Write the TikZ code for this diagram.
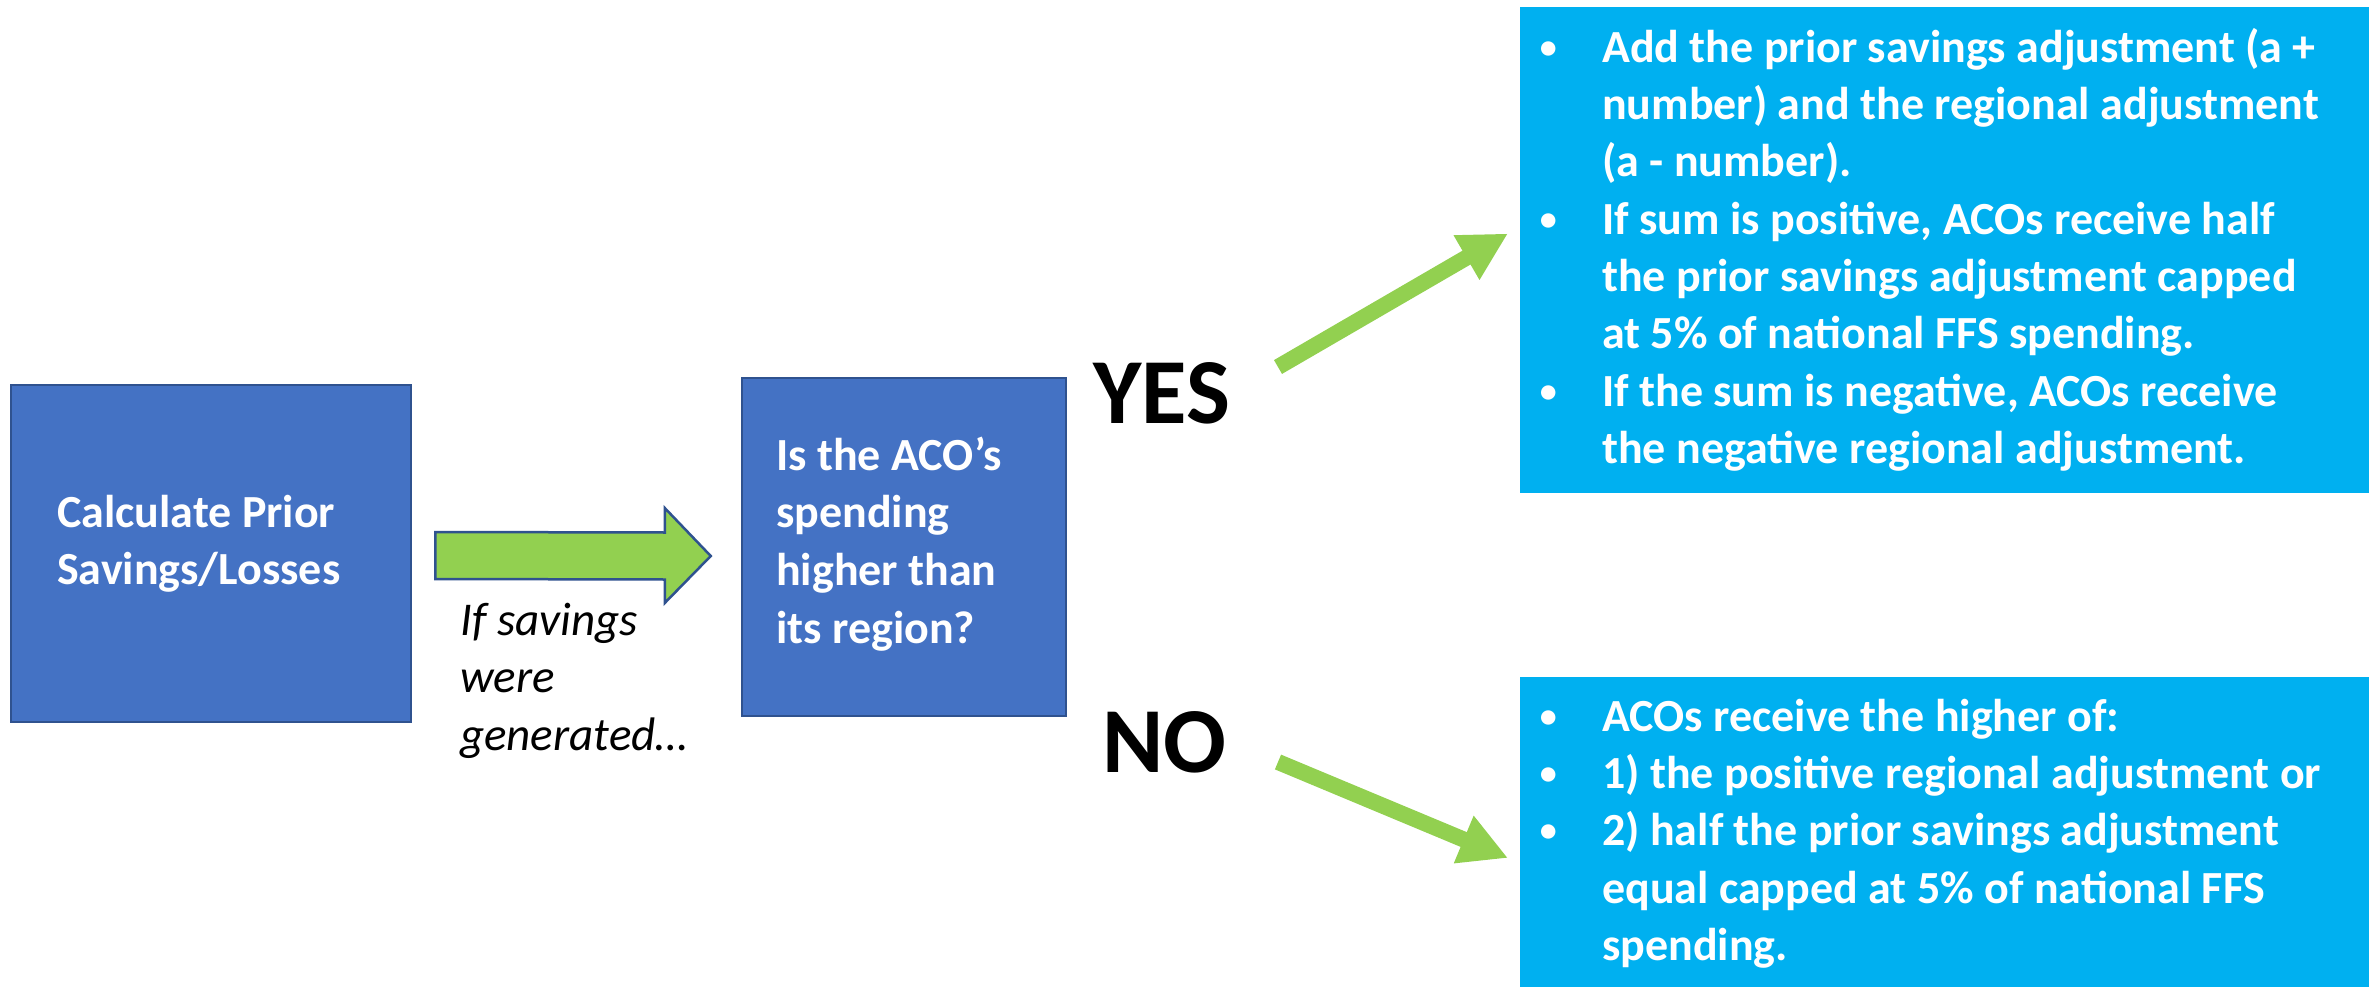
\documentclass[tikz,border=0pt]{standalone}
\usepackage{fontspec}
\setmainfont{Carlito}
\usetikzlibrary{arrows.meta,calc}
\definecolor{boxblue}{HTML}{4472C4}
\definecolor{boxedge}{HTML}{2F528F}
\definecolor{arrowgreen}{HTML}{92D050}
\definecolor{infocyan}{HTML}{00B0F0}
\newcommand\myTS{\rule{0pt}{40pt}}
\newcommand\bulitem{\makebox[72pt][l]{\makebox[36pt][c]{\raisebox{4pt}{\fontsize{34}{34}\selectfont •}}}}
\newcommand\bulindent{\hspace*{72pt}}
\begin{document}
\begin{tikzpicture}[x=1pt,y=-1pt,
  procbox/.style={draw=boxedge, line width=2.5pt, fill=boxblue, inner sep=0pt},
  infobox/.style={fill=infocyan, inner sep=0pt},
  boxtext/.style={anchor=north west, inner sep=0pt, align=left, text=white,
    font=\fontsize{46}{57.7}\selectfont\bfseries},
  listtext/.style={anchor=north west, inner sep=0pt, align=left, text=white,
    font=\fontsize{46}{57.3}\selectfont\bfseries},
  notetext/.style={anchor=north west, inner sep=0pt, align=left, text=black,
    font=\fontsize{47}{57.5}\selectfont\itshape},
  answer/.style={anchor=base west, inner sep=0pt, text=black,
    font=\fontsize{93}{100}\selectfont\bfseries},
  blockarrow/.style={draw=boxedge, line width=2.5pt, fill=arrowgreen, line join=miter},
  greenarrow/.style={draw=arrowgreen, line width=16pt, line cap=butt,
    -{Triangle[length=48pt,width=48pt]}}
]
\useasboundingbox (0,0) rectangle (2369,987);

% boxes
\node[procbox, minimum width=400pt, minimum height=337pt] (b1) at (211,553.5) {};
\node[procbox, minimum width=324pt, minimum height=338pt] (b2) at (904,547) {};
\node[infobox, minimum width=849pt, minimum height=486pt] (up) at (1944.5,250) {};
\node[infobox, minimum width=849pt, minimum height=310pt] (low) at (1944.5,832) {};

% texts in boxes
\node[boxtext] (b1t) at (57,487) {\myTS Calculate Prior\\Savings/Losses};
\node[boxtext] (b2t) at (776,430) {\myTS Is the ACO’s\\spending\\higher than\\its region?};
\node[notetext] (note) at (460,595) {\myTS If savings\\were\\generated…};
\node[answer] (yes) at (1093,423) {YES};
\node[answer] (no) at (1102,772) {NO};

\node[listtext] (upt) at (1530,22) {\myTS\bulitem Add the prior savings adjustment (a +\\
\bulindent number) and the regional adjustment\\
\bulindent (a - number).\\
\bulitem If sum is positive, ACOs receive half\\
\bulindent the prior savings adjustment capped\\
\bulindent at 5\% of national FFS spending.\\
\bulitem If the sum is negative, ACOs receive\\
\bulindent the negative regional adjustment.};

\node[listtext] (lowt) at (1530,691) {\myTS\bulitem ACOs receive the higher of:\\
\bulitem 1) the positive regional adjustment or\\
\bulitem 2) half the prior savings adjustment\\
\bulindent equal capped at 5\% of national FFS\\
\bulindent spending.};

% block arrow from b1 to b2
\coordinate (aT) at ($(b1.east)+(23,2)$);
\coordinate (aH) at ($(b2.west)+(-30,9)$);
\draw[blockarrow] ($(aT)+(0,-23.5)$) -- ($(aH)+(-46,-23.5)$) -- ($(aH)+(-46,-48)$)
  -- (aH) -- ($(aH)+(-46,47)$) -- ($(aH)+(-46,23.5)$) -- ($(aT)+(0,23.5)$) -- cycle;

% yes / no arrows
\coordinate (yesT) at (1278,367);
\coordinate (yesH) at (1508,233.5);
\coordinate (noT) at (1278,762);
\coordinate (noH) at (1508,858);
\draw[greenarrow] (yesT) -- (yesH);
\draw[greenarrow] (noT) -- (noH);
\end{tikzpicture}
\end{document}
